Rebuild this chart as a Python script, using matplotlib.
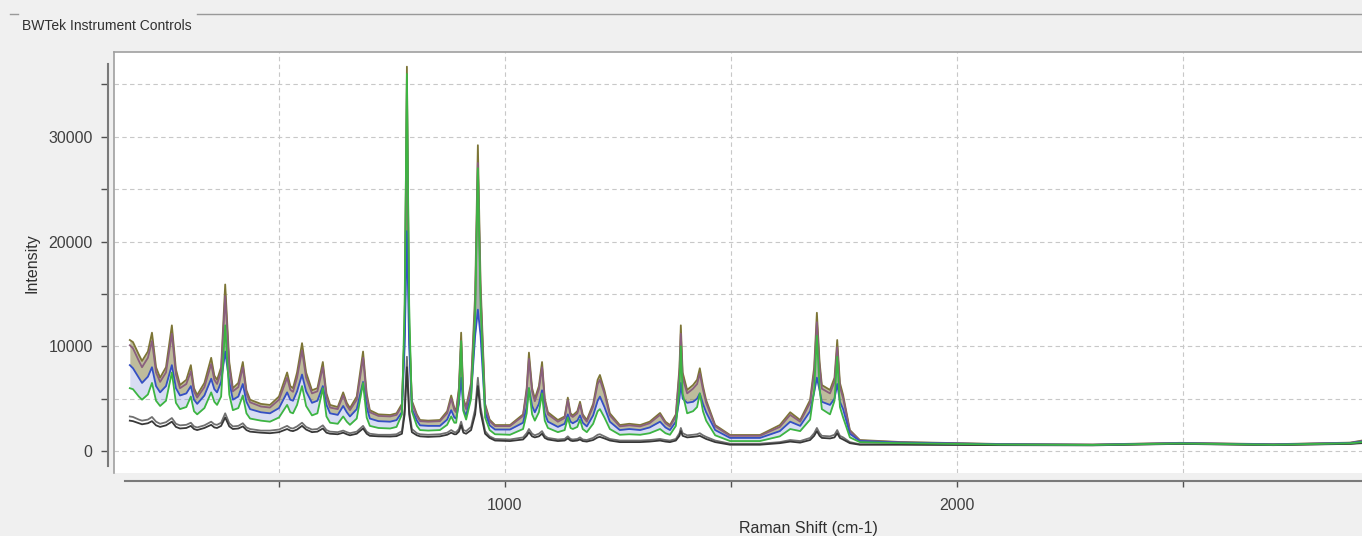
import matplotlib
matplotlib.use("Agg")
import matplotlib.pyplot as plt
from matplotlib.lines import Line2D

plt.rcParams['font.family'] = ['Liberation Sans', 'DejaVu Sans']

# ----------------------------
# Spectra (Raman shift in cm-1, intensity in counts)
# ----------------------------
wavenumber = [
    170, 177, 190, 197, 210, 219, 228, 237, 250, 263,
    272, 281, 295, 305, 312, 319, 335, 350, 357, 363,
    372, 381, 390, 398, 410, 420, 428, 436, 460, 480,
    500, 518, 525, 531, 540, 551, 560, 573, 585, 597,
    605, 613, 630, 642, 650, 657, 672, 686, 694, 701,
    720, 746, 760, 772, 778, 783, 788, 794, 805, 812,
    830, 856, 872, 881, 888, 892, 898, 903, 908, 914,
    925, 934, 940, 946, 956, 966, 978, 1011, 1040, 1048,
    1053, 1060, 1066, 1075, 1082, 1088, 1095, 1117, 1132, 1139,
    1145, 1150, 1160, 1166, 1172, 1181, 1195, 1205, 1210, 1220,
    1232, 1254, 1275, 1299, 1320, 1343, 1355, 1365, 1378, 1386,
    1389, 1393, 1403, 1416, 1425, 1431, 1438, 1445, 1465, 1498,
    1564, 1608, 1631, 1653, 1675, 1684, 1690, 1696, 1701, 1719,
    1729, 1735, 1741, 1748, 1763, 1785, 1874, 2095, 2300, 2493,
    2700, 2870, 2896,
]

olive = [
    10600, 10400, 9200, 8600, 9500, 11300, 8000, 7000, 8000, 12000,
    7800, 6300, 6800, 8200, 6000, 5350, 6500, 8900, 7200, 6800,
    8000, 15900, 8500, 6000, 6500, 8500, 5800, 4900, 4500, 4400,
    5200, 7500, 6200, 6000, 7500, 10300, 7500, 5800, 6000, 8500,
    5500, 4400, 4200, 5600, 4600, 4100, 5200, 9500, 5500, 3900,
    3500, 3440, 3600, 4500, 12000, 36700, 12000, 4800, 3500, 2960,
    2900, 2960, 3800, 5300, 4100, 3900, 6000, 11300, 5000, 4200,
    6500, 15000, 29200, 16000, 4500, 3000, 2480, 2480, 3500, 6000,
    9400, 6000, 5000, 6200, 8500, 5000, 3700, 2960, 3300, 5100,
    3600, 3400, 3800, 4700, 3500, 2960, 4500, 6800, 7260, 5800,
    3600, 2480, 2600, 2480, 2800, 3630, 2800, 2480, 3500, 8000,
    12000, 7500, 5830, 6300, 6800, 7900, 6200, 4870, 2480, 1530,
    1530, 2480, 3700, 2960, 4870, 8000, 13200, 8500, 6300, 5830,
    7000, 10600, 6500, 5350, 2000, 1050, 860, 670, 620, 780,
    650, 800, 1000,
]

purple = [
    10100, 9800, 8600, 8000, 8900, 10500, 7500, 6600, 7500, 11200,
    7300, 6000, 6400, 7600, 5700, 5100, 6100, 8300, 6800, 6400,
    7600, 14800, 8000, 5700, 6100, 8000, 5500, 4650, 4250, 4150,
    4900, 7000, 5850, 5650, 7000, 9600, 7000, 5500, 5700, 8000,
    5200, 4150, 4000, 5300, 4350, 3900, 4900, 8900, 5200, 3700,
    3350, 3300, 3450, 4300, 11500, 35000, 11500, 4600, 3350, 2850,
    2800, 2850, 3600, 5000, 3900, 3700, 5700, 10500, 4800, 4000,
    6200, 14000, 27500, 15000, 4300, 2850, 2380, 2380, 3350, 5700,
    8800, 5700, 4750, 5900, 8000, 4750, 3500, 2800, 3150, 4850,
    3400, 3250, 3600, 4450, 3300, 2800, 4250, 6400, 6800, 5500,
    3400, 2350, 2450, 2350, 2650, 3450, 2650, 2350, 3300, 7500,
    11200, 7000, 5500, 5950, 6400, 7400, 5850, 4600, 2350, 1450,
    1450, 2300, 3450, 2800, 4600, 7500, 12300, 8000, 5950, 5500,
    6600, 9900, 6100, 5050, 1900, 1000, 830, 650, 600, 760,
    630, 780, 950,
]

blue = [
    8200, 7900, 7000, 6500, 7100, 8000, 6200, 5600, 6200, 8200,
    6000, 5300, 5500, 6200, 4900, 4500, 5300, 6900, 5900, 5600,
    6600, 9500, 6600, 4900, 5200, 6400, 4700, 4000, 3700, 3600,
    4100, 5600, 4900, 4800, 5700, 7300, 5700, 4600, 4800, 6200,
    4400, 3600, 3450, 4300, 3700, 3300, 4000, 6600, 4200, 3100,
    2850, 2800, 2950, 3700, 10000, 21000, 10000, 4000, 2900, 2450,
    2400, 2400, 3000, 3900, 3200, 3100, 4500, 7000, 3900, 3400,
    5300, 11000, 13500, 11000, 3700, 2450, 2050, 2050, 2700, 4200,
    6000, 4300, 3700, 4500, 5800, 3600, 2800, 2300, 2600, 3500,
    2800, 2650, 2900, 3400, 2700, 2350, 3400, 4800, 5200, 4200,
    2800, 2000, 2100, 2000, 2250, 2800, 2250, 2000, 2800, 5000,
    6500, 5000, 4600, 4700, 5000, 5500, 4500, 3700, 2000, 1250,
    1250, 1900, 2800, 2400, 3800, 5600, 7000, 5800, 4700, 4400,
    5000, 6400, 4700, 4000, 1650, 950, 800, 640, 590, 740,
    620, 760, 900,
]

green = [
    6000, 5900, 5200, 4900, 5400, 6500, 4800, 4300, 4800, 7500,
    4600, 4000, 4200, 5200, 3800, 3500, 4100, 5600, 4700, 4400,
    5200, 12000, 5400, 3900, 4100, 5300, 3600, 3100, 2900, 2800,
    3200, 4400, 3700, 3600, 4400, 6200, 4300, 3400, 3600, 6000,
    3300, 2700, 2600, 3300, 2800, 2500, 3100, 6500, 3200, 2400,
    2200, 2150, 2300, 3500, 14000, 36000, 14000, 3800, 2400, 2000,
    1950, 2000, 2500, 3300, 2700, 2700, 5000, 10500, 3800, 3000,
    5000, 13000, 27000, 14000, 3200, 2000, 1600, 1550, 2100, 3600,
    6000, 3500, 2900, 3700, 5500, 2900, 2200, 1800, 2000, 3200,
    2200, 2100, 2300, 3000, 2100, 1800, 2600, 3800, 4000, 3200,
    2100, 1550, 1600, 1550, 1700, 2100, 1700, 1550, 2400, 6000,
    10000, 5500, 3600, 3800, 4200, 5500, 3800, 2900, 1500, 950,
    950, 1400, 2100, 1900, 3000, 5800, 11000, 6000, 4000, 3500,
    4800, 9000, 4200, 3200, 1300, 850, 750, 620, 580, 720,
    600, 740, 850,
]

gray = [
    3300, 3250, 3000, 2900, 3000, 3250, 2800, 2600, 2750, 3150,
    2600, 2450, 2500, 2700, 2350, 2250, 2450, 2800, 2550, 2500,
    2700, 3600, 2650, 2350, 2400, 2650, 2250, 2100, 1950, 1950,
    2050, 2400, 2200, 2150, 2350, 2700, 2300, 2050, 2100, 2450,
    2000, 1850, 1800, 1950, 1800, 1700, 1850, 2400, 1850, 1650,
    1550, 1550, 1600, 1900, 4000, 9000, 4000, 2100, 1700, 1600,
    1550, 1600, 1750, 2000, 1800, 1800, 2100, 2800, 2000, 1900,
    2300, 4000, 7000, 4200, 1900, 1400, 1150, 1100, 1300, 1700,
    2100, 1650, 1500, 1650, 1900, 1450, 1250, 1100, 1150, 1400,
    1150, 1100, 1150, 1300, 1100, 1050, 1250, 1550, 1600, 1400,
    1150, 1000, 1000, 1000, 1050, 1150, 1050, 1000, 1150, 1700,
    2200, 1700, 1500, 1550, 1600, 1700, 1500, 1350, 1000, 700,
    700, 850, 1050, 950, 1250, 1700, 2200, 1700, 1450, 1400,
    1550, 2000, 1450, 1300, 850, 650, 650, 580, 560, 700,
    580, 700, 800,
]

black = [
    2900, 2850, 2650, 2550, 2650, 2850, 2450, 2300, 2450, 2800,
    2300, 2150, 2200, 2400, 2100, 2000, 2200, 2500, 2250, 2200,
    2400, 3200, 2350, 2100, 2150, 2350, 2000, 1850, 1750, 1700,
    1800, 2100, 1950, 1900, 2050, 2400, 2050, 1800, 1850, 2150,
    1750, 1650, 1600, 1750, 1600, 1500, 1650, 2150, 1650, 1450,
    1400, 1380, 1420, 1650, 3500, 8000, 3500, 1800, 1500, 1400,
    1350, 1400, 1550, 1750, 1600, 1600, 1850, 2450, 1750, 1650,
    2000, 3500, 6200, 3700, 1650, 1250, 1000, 950, 1100, 1450,
    1800, 1400, 1300, 1400, 1650, 1250, 1100, 950, 1000, 1200,
    1000, 950, 1000, 1100, 950, 900, 1050, 1300, 1350, 1200,
    1000, 850, 850, 850, 900, 1000, 900, 850, 1000, 1450,
    1900, 1450, 1300, 1350, 1400, 1450, 1300, 1150, 850, 600,
    600, 750, 900, 800, 1050, 1450, 1900, 1450, 1250, 1200,
    1300, 1700, 1250, 1100, 750, 600, 600, 560, 540, 680,
    560, 680, 750,
]

x_major = [1000, 2000]
x_minor = [500, 1500, 2500]
y_major = [0, 10000, 20000, 30000]
y_minor = [5000, 15000, 25000, 35000]

# ----------------------------
# Figure laid out in pixels of the 1362x536 screenshot
# ----------------------------
W, H = 1362, 536
fig = plt.figure(figsize=(W / 100, H / 100), dpi=100, facecolor="#f0f0f0")


def fx(px):
    return px / W


def fy(py):
    return 1 - py / H


ax = fig.add_axes([fx(114), fy(473), fx(1362) - fx(114), fy(52) - fy(473)])
ax.set_facecolor("white")
ax.set_xlim(135, 2896)
ax.set_ylim(-2100, 38100)

# the overlapping spectra form a dense band between the top and blue curves
ax.fill_between(wavenumber, blue, olive, color="#7f7a3a", alpha=0.5, lw=0, zorder=2)
ax.fill_between(wavenumber, green, blue, color="#7f8fd8", alpha=0.3, lw=0, zorder=2)

series = [
    (gray, "#707070"),
    (black, "#383838"),
    (olive, "#7d7536"),
    (purple, "#8a5f7e"),
    (blue, "#3550c4"),
    (green, "#3db542"),
]
for ys, col in series:
    ax.plot(wavenumber, ys, color=col, lw=1.3, zorder=3)

ax.set_xticks(x_major)
ax.set_xticks(x_minor, minor=True)
ax.set_yticks(y_major)
ax.set_yticks(y_minor, minor=True)
ax.grid(which="both", ls=(0, (4, 3)), color="#c8c8c8", lw=0.8, zorder=0)

# separated axis lines like the instrument software
for s in ("top", "right"):
    ax.spines[s].set_visible(False)
ax.spines["left"].set_position(("outward", 4.3))
ax.spines["left"].set_bounds(-1400, 37000)
ax.spines["bottom"].set_position(("outward", 5.8))
ax.spines["bottom"].set_bounds(159, 2896)
for s in ("left", "bottom"):
    ax.spines[s].set_color("#7a7a7a")
    ax.spines[s].set_linewidth(1.5)

ax.tick_params(axis="y", which="both", direction="out", length=5, width=1,
               color="#505050", labelsize=11.5, labelcolor="#404040", pad=6)
ax.tick_params(axis="x", which="both", direction="out", length=4, width=1,
               color="#505050", labelsize=11.5, labelcolor="#404040", pad=8)

# panel border (top and left of the white area)
fig.add_artist(Line2D([fx(114), fx(1362)], [fy(52), fy(52)], color="#a0a0a0", lw=1.2))
fig.add_artist(Line2D([fx(114), fx(114)], [fy(52), fy(473)], color="#a0a0a0", lw=1.2))

# group box frame and caption
fig.add_artist(Line2D([fx(10), fx(18)], [fy(14), fy(14)], color="#999999", lw=1.0))
fig.add_artist(Line2D([fx(197), fx(1362)], [fy(14), fy(14)], color="#999999", lw=1.0))
fig.text(fx(22), fy(26), "BWTek Instrument Controls", fontsize=10, va="center",
         ha="left", color="#303030")

fig.text(fx(32), fy(263), "Intensity", rotation=90, fontsize=11.5,
         ha="center", va="center", color="#303030")
fig.text(fx(808), fy(528), "Raman Shift (cm-1)", fontsize=11.5,
         ha="center", va="center", color="#303030")

fig.savefig("out.png", dpi=100, facecolor=fig.get_facecolor())
